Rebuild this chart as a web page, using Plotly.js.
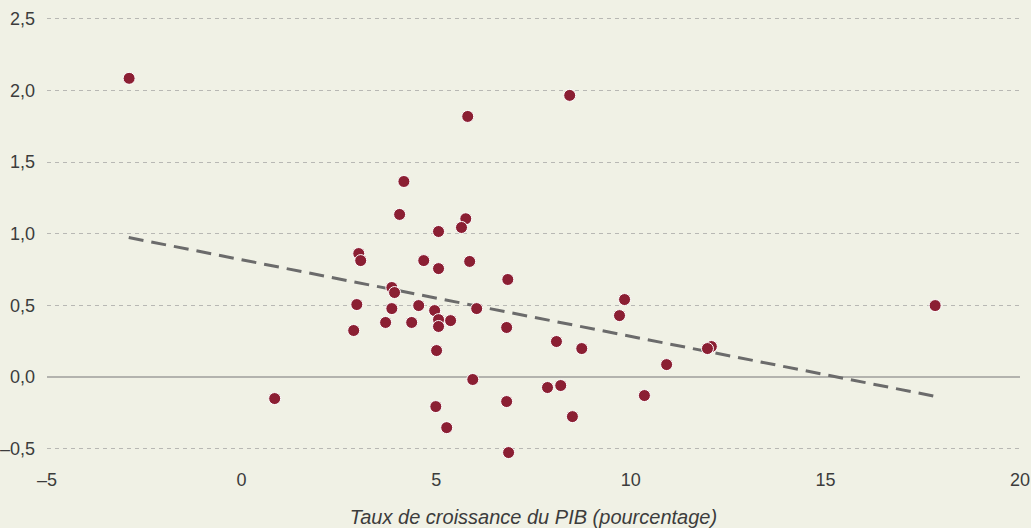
<!DOCTYPE html>
<html>
<head>
<meta charset="utf-8">
<script src="https://cdn.plot.ly/plotly-3.0.1.min.js"></script>
<style>html,body{margin:0;padding:0;background:#f0f1e5;}#chart{width:1031px;height:528px;}</style>
</head>
<body>
<div id="chart"></div>
<script>
// Growth rate of GDP (x) vs. value (y)
const growthX = [-2.89, 8.43, 5.81, 4.17, 4.06, 5.76, 5.65, 5.06, 3.01, 3.06,
  4.68, 5.86, 5.06, 6.84, 3.86, 3.93, 9.84, 9.71, 2.96, 4.55,
  3.86, 6.04, 4.96, 3.70, 4.37, 5.06, 5.37, 5.06, 2.88, 6.81,
  17.82, 8.09, 8.74, 12.07, 11.97, 5.01, 10.92, 5.94, 7.86, 8.20,
  10.35, 0.85, 6.81, 4.99, 8.50, 5.27, 6.86];
const valueY = [2.085, 1.966, 1.819, 1.365, 1.135, 1.105, 1.044, 1.016, 0.862, 0.813,
  0.813, 0.807, 0.757, 0.681, 0.625, 0.590, 0.541, 0.429, 0.506, 0.499,
  0.478, 0.478, 0.464, 0.381, 0.381, 0.401, 0.394, 0.353, 0.325, 0.346,
  0.499, 0.248, 0.199, 0.213, 0.199, 0.185, 0.087, -0.017, -0.073, -0.059,
  -0.129, -0.150, -0.171, -0.206, -0.276, -0.353, -0.527];
// Trend line end points
const trendX = [-2.9, 17.85];
const trendY = [0.974, -0.136];
// Tick labels
const xTickVals = [-5, 0, 5, 10, 15, 20];
const xTickText = ['–5', '0', '5', '10', '15', '20'];
const yTickVals = [-0.5, 0, 0.5, 1, 1.5, 2, 2.5];
const yTickText = ['–0,5', '0,0', '0,5', '1,0', '1,5', '2,0', '2,5'];
const xTitle = 'Taux de croissance du PIB (pourcentage)';

const bg = '#f0f1e5';
const fontFam = '"Liberation Sans", Arial, sans-serif';
const txt = '#3c3c3c';

const traces = [
  {
    x: trendX, y: trendY, type: 'scatter', mode: 'lines',
    line: {color: '#6b6b6b', width: 3, dash: '15px,8px'},
    hoverinfo: 'skip', showlegend: false
  },
  {
    x: growthX, y: valueY, type: 'scatter', mode: 'markers', cliponaxis: false,
    marker: {color: '#8b1f33', size: 12, line: {color: '#ffffff', width: 1}},
    showlegend: false
  }
];

const layout = {
  width: 1031, height: 528,
  paper_bgcolor: bg, plot_bgcolor: bg,
  margin: {l: 47, r: 11, t: 16.4, b: 74.7},
  font: {family: fontFam, size: 18, color: txt},
  showlegend: false,
  xaxis: {
    range: [-5, 20], tickmode: 'array', tickvals: xTickVals, ticktext: xTickText,
    showgrid: false, zeroline: false, showline: false, ticks: '',
    ticklabelstandoff: 14,
    tickfont: {family: fontFam, size: 18, color: txt},
    title: {text: '<i>' + xTitle + '</i>', font: {family: fontFam, size: 20, color: txt}, standoff: 20}
  },
  yaxis: {
    range: [-0.53, 2.52], tickmode: 'array', tickvals: yTickVals, ticktext: yTickText,
    showgrid: true, gridcolor: '#b8b8b4', gridwidth: 1, griddash: '4px,4px',
    zeroline: true, zerolinecolor: '#b3b3ae', zerolinewidth: 2,
    showline: false, ticks: '', ticklabelstandoff: 11,
    tickfont: {family: fontFam, size: 18, color: txt}
  }
};

Plotly.newPlot('chart', traces, layout, {displayModeBar: false, staticPlot: true});
</script>
</body>
</html>
